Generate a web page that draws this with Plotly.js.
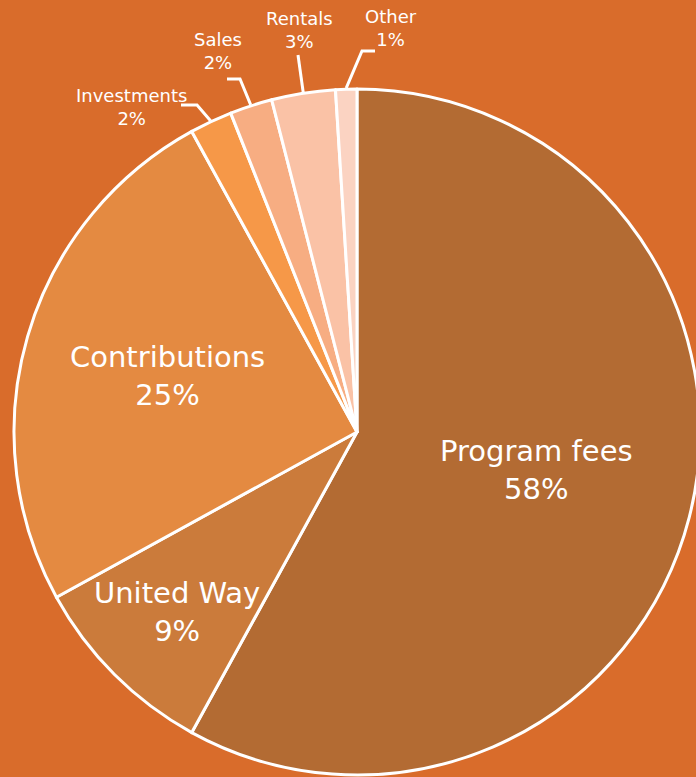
<!DOCTYPE html>
<html>
<head>
<meta charset="utf-8">
<script src="https://cdn.plot.ly/plotly-3.0.1.min.js"></script>
<style>
html,body{margin:0;padding:0;overflow:hidden;background:#D96C2B;width:696px;height:777px;}
#chart{width:720px;height:777px;}
</style>
</head>
<body>
<div id="chart"></div>
<script>
const categories = ["Program fees", "United Way", "Contributions", "Investments", "Sales", "Rentals", "Other"];
const values = [58, 9, 25, 2, 2, 3, 1];
const sliceColors = ["#B36B33", "#CB7B3B", "#E48A41", "#F69848", "#F7AD82", "#FAC2A6", "#FBD3C2"];

// layout constants (pixels in the 720x777 figure)
const W = 720, H = 777;
const CX = 357, CY = 432, R = 343;
const labelPos = [[536, 470], [177, 612], [167, 376], [131, 107], [218, 51], [299, 30], [391, 28]];
const labelSize = [29, 29, 29, 18, 18, 18, 18];
// leader line elbow/end for outside labels (null = inside label)
const leaders = [null, null, null, [[197, 105], [181, 105]], [[240, 79], [227, 79]], [[298, 55], [298, 55]], [[362, 51], [375, 51]]];

const px = x => x / W;
const py = y => 1 - y / H;

const total = values.reduce((a, b) => a + b, 0);
const annotations = [];
const shapes = [];
let cum = 0;
values.forEach((v, i) => {
  const mid = (cum + v / 2) / total * 2 * Math.PI;
  cum += v;
  const pct = Math.round(v / total * 100) + "%";
  annotations.push({
    text: categories[i] + "<br>" + pct,
    x: px(labelPos[i][0]), y: py(labelPos[i][1]),
    xref: "paper", yref: "paper",
    xanchor: "center", yanchor: "middle",
    showarrow: false,
    font: {family: "DejaVu Sans, sans-serif", size: labelSize[i], color: "#FFFFFF"}
  });
  if (leaders[i]) {
    const sx = CX + (R + 1) * Math.sin(mid);
    const sy = CY - (R + 1) * Math.cos(mid);
    const [e, f] = leaders[i];
    shapes.push({
      type: "path", xref: "paper", yref: "paper",
      path: `M ${px(sx)} ${py(sy)} L ${px(e[0])} ${py(e[1])} L ${px(f[0])} ${py(f[1])}`,
      line: {color: "#FFFFFF", width: 3}
    });
  }
});

const trace = {
  type: "pie",
  labels: categories,
  values: values,
  sort: false,
  direction: "clockwise",
  rotation: 0,
  textinfo: "none",
  marker: {colors: sliceColors, line: {color: "#FFFFFF", width: 3}},
  domain: {x: [(CX - R) / W, (CX + R) / W], y: [1 - (CY + R) / H, 1 - (CY - R) / H]},
  hoverinfo: "none"
};

const layout = {
  width: W,
  height: H,
  margin: {l: 0, r: 0, t: 0, b: 0},
  paper_bgcolor: "#D96C2B",
  plot_bgcolor: "#D96C2B",
  showlegend: false,
  annotations: annotations,
  shapes: shapes
};

Plotly.newPlot("chart", [trace], layout, {displayModeBar: false, staticPlot: true});
</script>
</body>
</html>
